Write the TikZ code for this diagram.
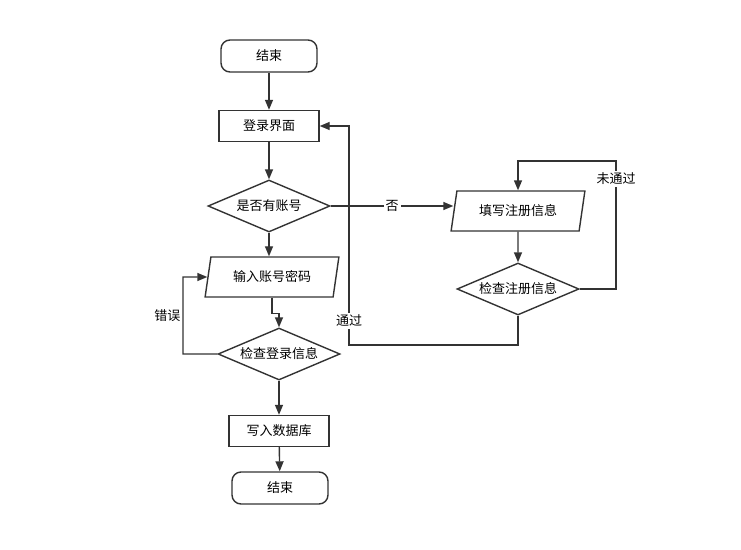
\documentclass[tikz,border=0pt]{standalone}
\usepackage{fontspec}
\setmainfont{Noto Sans CJK SC}
\usetikzlibrary{shapes.geometric, arrows.meta, positioning}
\definecolor{lineg}{HTML}{333333}

\begin{document}
\begin{tikzpicture}[x=1pt, y=-1pt, font=\fontsize{13}{15}\selectfont,
    base/.style={draw=lineg, line width=1.4pt, inner sep=1pt},
    term/.style={base, rounded corners=9pt, minimum width=96pt, minimum height=32pt},
    proc/.style={base, minimum width=100pt, minimum height=31pt},
    dec/.style={base, diamond, aspect=2.4, minimum width=122pt, minimum height=52pt},
    io/.style={base, trapezium, trapezium left angle=75, trapezium right angle=105,
      trapezium stretches=true, minimum width=134pt, minimum height=40pt},
    flow/.style={draw=lineg, line width=1.4pt, -{Triangle[length=10pt, width=8pt]}},
    lab/.style={fill=white, inner sep=2pt}]
  \useasboundingbox (0,0) rectangle (741,549);
  % left column
  \node[term] (top) at (269,56) {结束};
  \node[proc] (login) at (269,126) {登录界面};
  \node[dec] (hasacc) at (269,206) {是否有账号};
  \node[io] (input) at (272,277) {输入账号密码};
  \node[dec] (chklog) at (279,354) {检查登录信息};
  \node[proc] (db) at (279,431) {写入数据库};
  \node[term] (bottom) at (280,488) {结束};
  % right column
  \node[io] (fill) at (518,211) {填写注册信息};
  \node[dec] (chkreg) at (518,289) {检查注册信息};

  \draw[flow] (top) -- (login);
  \draw[flow] (login) -- (hasacc);
  \draw[flow] (hasacc.south) -- (input.north -| hasacc.south);
  \draw[flow] (input.south) -- ++(0,16) -| (chklog.north);
  \draw[flow] (chklog.west) -- (183,354) -- node[lab, left, fill=none] {错误} (183,277) -- (input.west);
  \draw[flow] (chklog) -- (db);
  \draw[flow] (db) -- (bottom);
  \draw[flow] (hasacc.east) -- node[lab, pos=0.5] {否} (fill.west |- hasacc.east);
  \draw[flow] (fill) -- (chkreg);
  \draw[flow] (chkreg.east) -- (616,289) -- node[lab, pos=0.86] {未通过} (616,161) -| (fill.north);
  \draw[flow] (chkreg.south) -- (518,345) -- (349,345) -- node[lab, pos=0.11] {通过} (349,126) -- (login.east);
\end{tikzpicture}
\end{document}
